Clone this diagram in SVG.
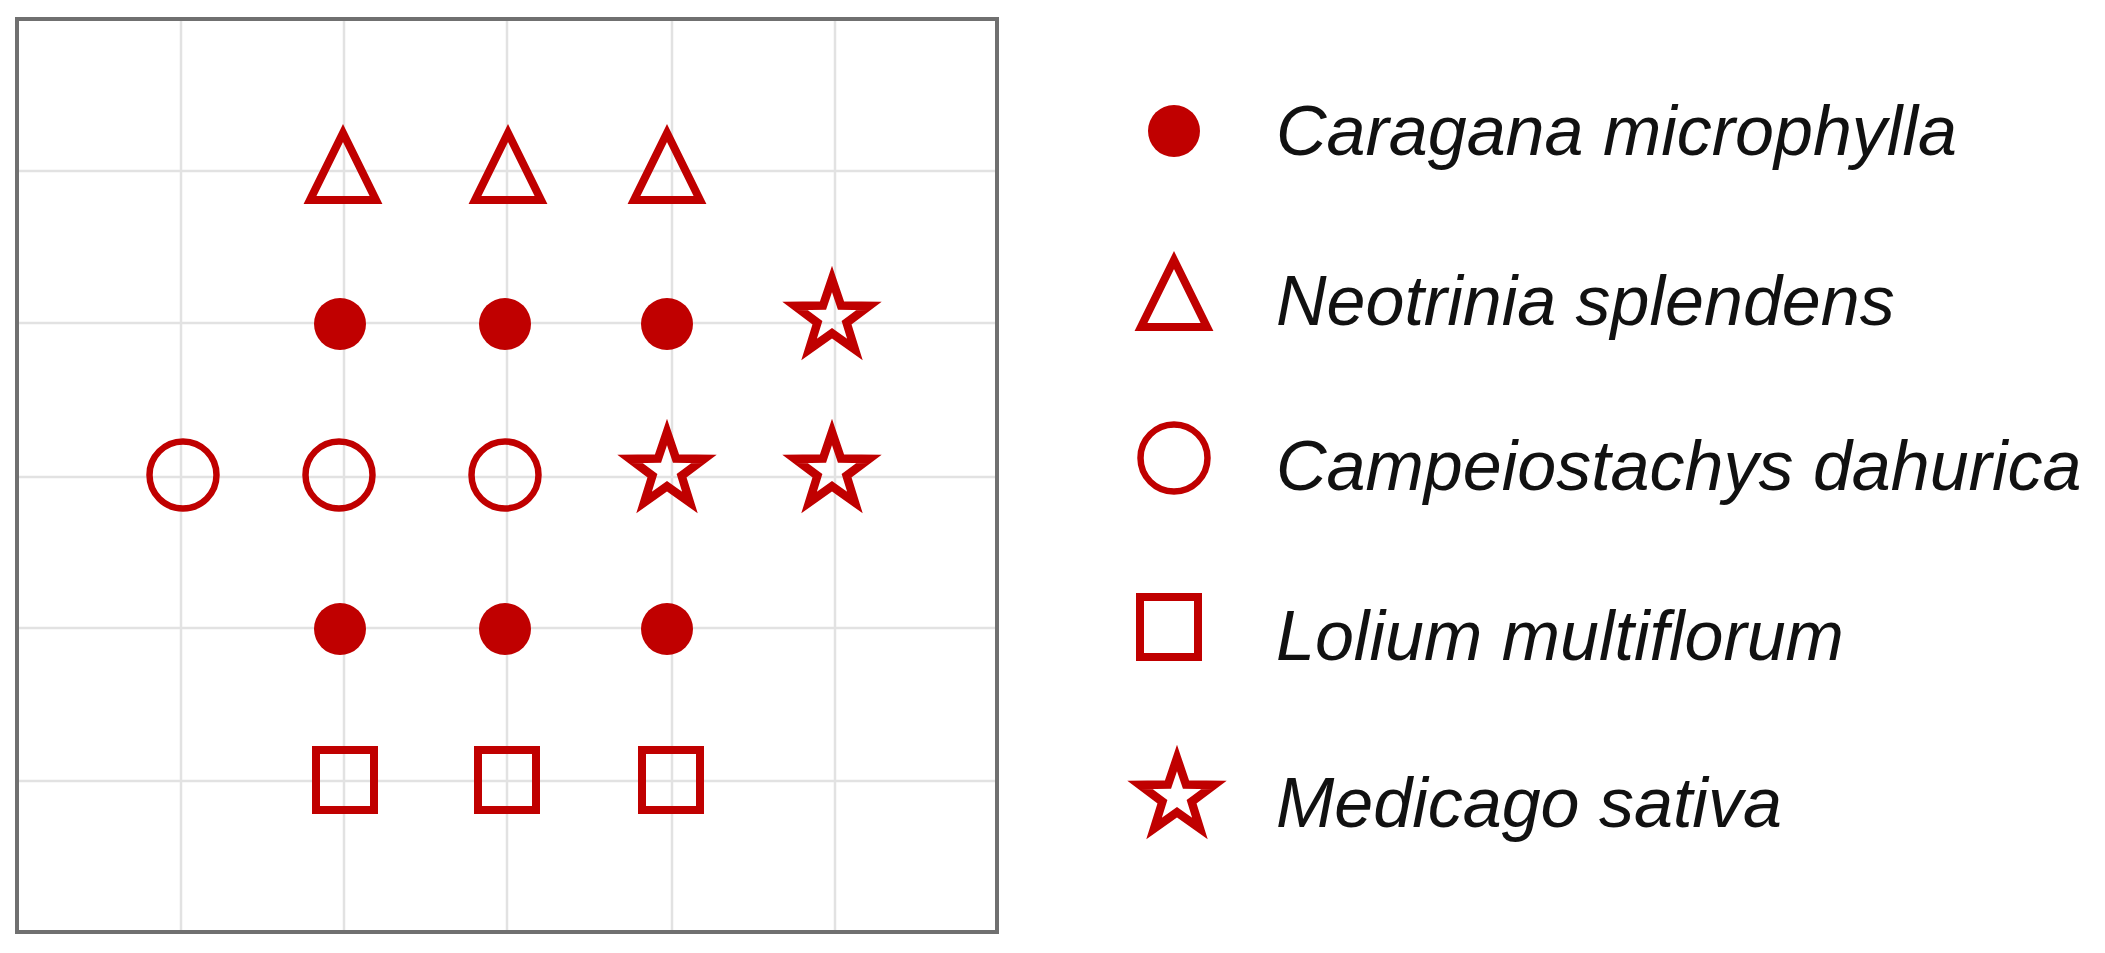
<svg xmlns="http://www.w3.org/2000/svg" xmlns:xlink="http://www.w3.org/1999/xlink" width="2105" height="953" viewBox="0 0 2105 953">
<style>
.grid{stroke:#e2e2e2;stroke-width:2.5;fill:none}
.frame{stroke:#707070;stroke-width:4;fill:none}
.fill{fill:#c00000;stroke:none}
.open{fill:none;stroke:#c00000;stroke-width:6.5}
.tri{fill:none;stroke:#c00000;stroke-width:8;stroke-miterlimit:10}
.star{fill:none;stroke:#c00000;stroke-width:8.5;stroke-miterlimit:10}
.sq{fill:none;stroke:#c00000;stroke-width:8}
.label{font-family:"Liberation Sans",Arial,sans-serif;font-style:italic;font-size:70px;fill:#111}
</style>
<defs>
<path id="tri" d="M0,-38 L33,29 L-33,29 Z" class="tri"/>
<path id="star" d="M0,-39 L9.0,-12.4 L37.09,-12.05 L14.57,4.73 L22.92,31.55 L0,15.3 L-22.92,31.55 L-14.57,4.73 L-37.09,-12.05 L-9.0,-12.4 Z" class="star"/>
<circle id="dot" r="26" class="fill"/>
<circle id="ring" r="33.5" class="open"/>
<rect id="sq" x="-29" y="-30" width="58" height="60" class="sq"/>
</defs>
<rect width="2105" height="953" fill="#fff"/>
<g id="grid">
<line class="grid" x1="181" y1="19" x2="181" y2="932"/>
<line class="grid" x1="344" y1="19" x2="344" y2="932"/>
<line class="grid" x1="507" y1="19" x2="507" y2="932"/>
<line class="grid" x1="672" y1="19" x2="672" y2="932"/>
<line class="grid" x1="835" y1="19" x2="835" y2="932"/>
<line class="grid" x1="17" y1="171" x2="997" y2="171"/>
<line class="grid" x1="17" y1="323" x2="997" y2="323"/>
<line class="grid" x1="17" y1="477" x2="997" y2="477"/>
<line class="grid" x1="17" y1="628" x2="997" y2="628"/>
<line class="grid" x1="17" y1="781" x2="997" y2="781"/>
</g>
<rect id="frame" class="frame" x="17" y="19" width="980" height="913"/>
<g id="plot">
<use href="#tri" x="343" y="171"/>
<use href="#tri" x="508" y="171"/>
<use href="#tri" x="667" y="171"/>
<use href="#dot" x="340" y="324"/>
<use href="#dot" x="505" y="324"/>
<use href="#dot" x="667" y="324"/>
<use href="#star" x="832" y="318"/>
<use href="#ring" x="183" y="475"/>
<use href="#ring" x="339" y="475"/>
<use href="#ring" x="505" y="475"/>
<use href="#star" x="667" y="471"/>
<use href="#star" x="832" y="471"/>
<use href="#dot" x="340" y="629"/>
<use href="#dot" x="505" y="629"/>
<use href="#dot" x="667" y="629"/>
<use href="#sq" x="345" y="780"/>
<use href="#sq" x="507" y="780"/>
<use href="#sq" x="671" y="780"/>
</g>
<g id="legend-caragana">
<use href="#dot" x="1174" y="131"/>
<text class="label" x="1276" y="155">Caragana microphylla</text>
</g>
<g id="legend-neotrinia">
<use href="#tri" x="1174" y="298"/>
<text class="label" x="1276" y="325">Neotrinia splendens</text>
</g>
<g id="legend-campeiostachys">
<use href="#ring" x="1174" y="458"/>
<text class="label" x="1276" y="490">Campeiostachys dahurica</text>
</g>
<g id="legend-lolium">
<use href="#sq" x="1169" y="627"/>
<text class="label" x="1276" y="660">Lolium multiflorum</text>
</g>
<g id="legend-medicago">
<use href="#star" x="1177" y="797"/>
<text class="label" x="1276" y="827">Medicago sativa</text>
</g>
</svg>
